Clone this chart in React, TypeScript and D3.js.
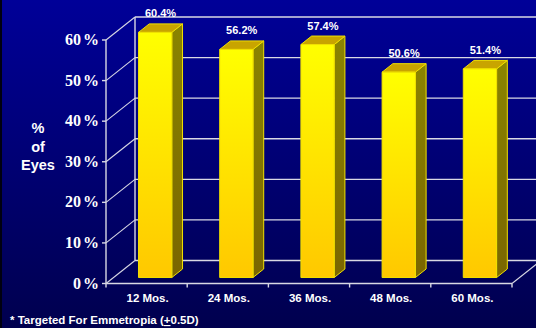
import React from "react";
import * as d3 from "d3";

const categories = ["12 Mos.", "24 Mos.", "36 Mos.", "48 Mos.", "60 Mos."];
const values = [60.4, 56.2, 57.4, 50.6, 51.4];
const yTicks = [0, 10, 20, 30, 40, 50, 60];

const W = 536;
const H = 328;
// oblique projection of the depth axis
const DX = 29;
const DY = 23;
const BAR_Z0 = 0.26;
const BAR_Z1 = 0.63;

export default function App() {
  const x = d3.scaleBand<string>().domain(categories).range([106, 512]).padding(0);
  const y = d3.scaleLinear().domain([0, 60]).range([283.5, 40]);
  const bw = x.bandwidth();
  const barW = bw * 0.41;

  const P = (px: number, v: number, z: number): [number, number] => [px + z * DX, y(v) - z * DY];
  const pts = (arr: [number, number][]) => arr.map((p) => p.join(",")).join(" ");

  const gridColor = "#d8d8e4";
  const x0 = 106;
  const x1 = 512;

  return (
    <svg width={W} height={H} style={{ position: "absolute", left: 0, top: 0, display: "block" }}>
      <defs>
        <linearGradient id="bg" x1="0" y1="0" x2="0" y2="1">
          <stop offset="0" stopColor="#000098" />
          <stop offset="1" stopColor="#00004e" />
        </linearGradient>
        <linearGradient id="front" x1="0" y1="0" x2="0" y2="1">
          <stop offset="0" stopColor="#ffff00" />
          <stop offset="1" stopColor="#ffc800" />
        </linearGradient>
        <linearGradient id="side" x1="0" y1="0" x2="0" y2="1">
          <stop offset="0" stopColor="#8a8400" />
          <stop offset="1" stopColor="#7a6600" />
        </linearGradient>
        <clipPath id="plot">
          <rect x={0} y={0} width={W} height={H} />
        </clipPath>
      </defs>
      <rect x={0} y={0} width={W} height={H} fill="url(#bg)" />
      <rect x={0} y={0} width={2} height={H} fill="#000010" />

      <g clipPath="url(#plot)" stroke={gridColor} fill="none" strokeWidth={1.4}>
        {/* back wall gridlines */}
        {yTicks.map((t) => {
          const [ax, ay] = P(x0, t, 1);
          const [bx] = P(x1, t, 1);
          return <line key={"b" + t} x1={ax} y1={ay} x2={bx} y2={ay} />;
        })}
        {/* side wall diagonals */}
        {yTicks.map((t) => {
          const [ax, ay] = P(x0, t, 0);
          const [bx, by] = P(x0, t, 1);
          return <line key={"s" + t} x1={ax} y1={ay} x2={bx} y2={by} strokeWidth={1.1} />;
        })}
        {/* wall edges */}
        <line x1={P(x0, 0, 1)[0]} y1={P(x0, 0, 1)[1]} x2={P(x0, 60, 1)[0]} y2={P(x0, 60, 1)[1]} />
        <line x1={x0} y1={y(0)} x2={x0} y2={y(60)} />
        {/* floor */}
        <line x1={x0} y1={y(0)} x2={x1} y2={y(0)} />
        <line x1={x1} y1={y(0)} x2={P(x1, 0, 1)[0]} y2={P(x1, 0, 1)[1]} strokeWidth={1.1} />
        {/* ticks */}
        {yTicks.map((t) => (
          <line key={"yt" + t} x1={x0 - 4} y1={y(t)} x2={x0} y2={y(t)} />
        ))}
        {[...categories.map((c) => x(c) as number), x1].map((px, i) => (
          <line key={"xt" + i} x1={px} y1={y(0)} x2={px} y2={y(0) + 4} />
        ))}
      </g>

      {/* bars */}
      {categories.map((c, i) => {
        const v = values[i];
        const left = (x(c) as number) + (bw - barW) / 2 + 1;
        const right = left + barW;
        const fBL = P(left, 0, BAR_Z0);
        const fTL = P(left, v, BAR_Z0);
        const fTR = P(right, v, BAR_Z0);
        const fBR = P(right, 0, BAR_Z0);
        const bTL = P(left, v, BAR_Z1);
        const bTR = P(right, v, BAR_Z1);
        const bBR = P(right, 0, BAR_Z1);
        const cx = (fTL[0] + bTR[0]) / 2;
        return (
          <g key={c} stroke="#f0e000" strokeWidth={1} strokeLinejoin="round">
            <polygon points={pts([fBR, fTR, bTR, bBR])} fill="url(#side)" />
            <polygon points={pts([fTL, bTL, bTR, fTR])} fill="#c8a400" />
            <rect x={fTL[0]} y={fTL[1]} width={barW} height={fBL[1] - fTL[1]} fill="url(#front)" />
            <text
              x={cx}
              y={bTL[1] - 6.5}
              textAnchor="middle"
              fill="#ffffff"
              stroke="none"
              fontFamily="'Liberation Sans', Arial, sans-serif"
              fontWeight="bold"
              fontSize={11}
            >
              {v.toFixed(1)}%
            </text>
          </g>
        );
      })}

      {/* y axis labels */}
      {yTicks.map((t) => (
        <text
          key={"yl" + t}
          x={99}
          y={y(t) + 5}
          textAnchor="end"
          fill="#ffffff"
          fontFamily="'Liberation Serif', 'DejaVu Serif', serif"
          fontWeight="bold"
          fontSize={16}
        >
          {t}
          <tspan dx={2}>%</tspan>
        </text>
      ))}

      {/* category labels */}
      {categories.map((c) => (
        <text
          key={"cl" + c}
          x={(x(c) as number) + bw / 2 + 1}
          y={302}
          textAnchor="middle"
          fill="#ffffff"
          fontFamily="'Liberation Sans', Arial, sans-serif"
          fontWeight="bold"
          fontSize={11.5}
        >
          {c}
        </text>
      ))}

      {/* axis title */}
      <g fill="#ffffff" fontFamily="'Liberation Sans', Arial, sans-serif" fontWeight="bold" fontSize={14.5} textAnchor="middle">
        <text x={38} y={133}>%</text>
        <text x={38} y={152}>of</text>
        <text x={38} y={170}>Eyes</text>
      </g>

      {/* footnote */}
      <text x={10} y={324} fill="#ffffff" fontFamily="'Liberation Sans', Arial, sans-serif" fontWeight="bold" fontSize={11.5}>
        * Targeted For Emmetropia (<tspan textDecoration="underline">+</tspan>0.5D)
      </text>
    </svg>
  );
}
